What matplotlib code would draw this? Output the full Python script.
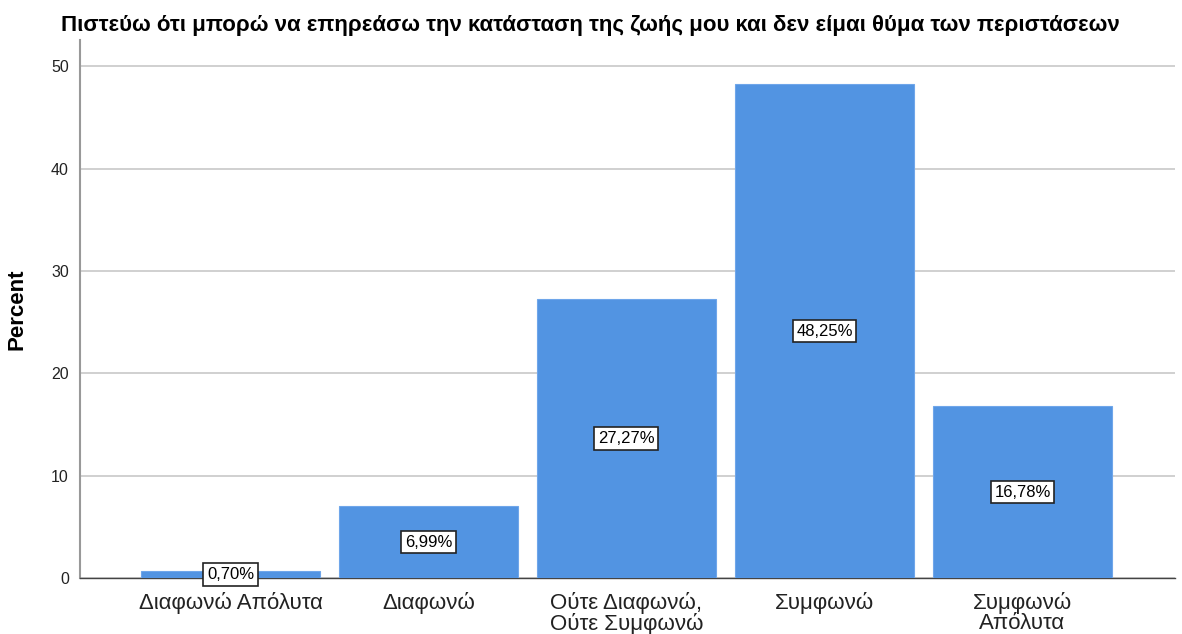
import matplotlib.pyplot as plt

plt.rcParams['font.family'] = ['Liberation Sans', 'DejaVu Sans']

categories = ['Διαφωνώ Απόλυτα', 'Διαφωνώ', 'Ούτε Διαφωνώ,\nΟύτε Συμφωνώ', 'Συμφωνώ', 'Συμφωνώ\nΑπόλυτα']
percents = [0.70, 6.99, 27.27, 48.25, 16.78]
labels = ['0,70%', '6,99%', '27,27%', '48,25%', '16,78%']

fig = plt.figure(figsize=(11.82, 6.34), dpi=100)
ax = fig.add_axes([0.0677, 0.0883, 0.9263, 0.849])

x = range(len(categories))
ax.bar(x, percents, width=0.9, color='#5294E2', edgecolor='#6FA6EA', linewidth=0.8, zorder=3)

# ετικέτες στη μέση της μπάρας
for i, v in enumerate(percents):
    ax.text(i, v / 2, labels[i], ha='center', va='center', fontsize=12, zorder=4,
            bbox=dict(boxstyle='square,pad=0.22', facecolor='white', edgecolor='#222222', linewidth=1.2))

ax.set_xlim(-0.76, 4.77)
ax.set_ylim(0, 52.6)
ax.set_yticks([0, 10, 20, 30, 40, 50])
ax.set_xticks(list(x))
ax.set_xticklabels(categories, fontsize=16, color='#222222', linespacing=0.95)
ax.tick_params(axis='y', labelsize=11.5, colors='#222222', length=0, pad=8)
ax.tick_params(axis='x', length=0, pad=10)
ax.yaxis.grid(True, color='#C8C8C8', linewidth=1.2, zorder=0)
ax.set_axisbelow(True)

for s in ['top', 'right']:
    ax.spines[s].set_visible(False)
ax.spines['left'].set_color('#999999')
ax.spines['left'].set_linewidth(1.5)
ax.spines['bottom'].set_color('#444444')
ax.spines['bottom'].set_linewidth(1)

ax.set_ylabel('Percent', fontsize=16, fontweight='bold', labelpad=17)
fig.text(0.052, 0.96, 'Πιστεύω ότι μπορώ να επηρεάσω την κατάσταση της ζωής μου και δεν είμαι θύμα των περιστάσεων',
         fontsize=16, fontweight='bold', va='center', ha='left')

fig.savefig('out.png', dpi=100)
